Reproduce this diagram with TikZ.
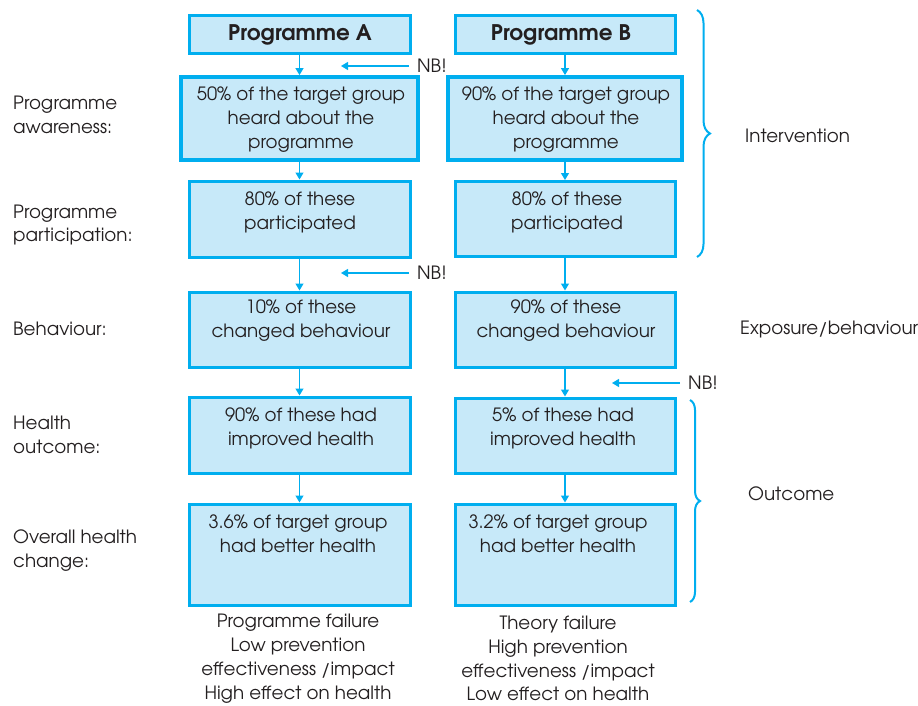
\documentclass[tikz,border=0pt]{standalone}
\usepackage{fontspec}
\setmainfont{TeX Gyre Adventor}
\usetikzlibrary{arrows.meta,decorations.pathreplacing}
\definecolor{cyanb}{HTML}{00AEEF}
\definecolor{fillb}{HTML}{C7E9F9}
\definecolor{txt}{HTML}{231F20}
\begin{document}
\begin{tikzpicture}[x=1pt,y=-1pt,
  box/.style={draw=cyanb, fill=fillb, line width=3pt, inner sep=0pt, rectangle},
  thickbox/.style={box, line width=3.8pt},
  lbl/.style={text=txt, font=\fontsize{18.3}{23.8}\selectfont, align=center, inner sep=0pt},
  llbl/.style={lbl, align=left, anchor=west},
  arr/.style={draw=cyanb, line width=1.3pt, -{Triangle[length=7pt,width=8pt]}},
  brc/.style={draw=cyanb, line width=2pt, decorate, decoration={brace, amplitude=#1}}
]
\useasboundingbox (0,0) rectangle (918,705);

% column A boxes
\node[box, minimum width=221pt, minimum height=38pt] (pa) at (299.5,34) {};
\node[thickbox, minimum width=237pt, minimum height=83pt] (aa) at (299.5,118.5) {};
\node[box, minimum width=221pt, minimum height=76pt] (ra) at (299.5,219) {};
\node[box, minimum width=221pt, minimum height=75pt] (ba) at (299.5,329.5) {};
\node[box, minimum width=221pt, minimum height=76pt] (ha) at (299.5,435) {};
\node[box, minimum width=221pt, minimum height=101pt] (oa) at (299.5,554.5) {};
% column B boxes
\node[box, minimum width=220pt, minimum height=38pt] (pb) at (565,34) {};
\node[thickbox, minimum width=234pt, minimum height=83pt] (ab) at (565,118.5) {};
\node[box, minimum width=220pt, minimum height=75pt] (rb) at (565,219) {};
\node[box, minimum width=220pt, minimum height=75pt] (bb) at (565,329.5) {};
\node[box, minimum width=220pt, minimum height=75pt] (hb) at (565,435.5) {};
\node[box, minimum width=220pt, minimum height=101pt] (ob) at (565,554.5) {};

% box texts
\node[lbl, font=\fontsize{21.5}{24}\selectfont\bfseries] (tpa) at (300,35) {Programme A};
\node[lbl, font=\fontsize{21.5}{24}\selectfont\bfseries] (tpb) at (561,35) {Programme B};
\node[lbl] (taa) at (301,119.5) {50\% of the target group\\heard about the\\programme};
\node[lbl] (tab) at (566,119.5) {90\% of the target group\\heard about the\\programme};
\node[lbl] (tra) at (300,212.5) {80\% of these\\participated};
\node[lbl] (trb) at (567,212.5) {80\% of these\\participated};
\node[lbl] (tba) at (301,320.5) {10\% of these\\changed behaviour};
\node[lbl] (tbb) at (566,320.5) {90\% of these\\changed behaviour};
\node[lbl] (tha) at (301,428) {90\% of these had\\improved health};
\node[lbl] (thb) at (563,428) {5\% of these had\\improved health};
\node[lbl] (toa) at (298,533.5) {3.6\% of target group\\had better health};
\node[lbl] (tob) at (558,533.5) {3.2\% of target group\\had better health};

% bottom texts
\node[lbl] (fa) at (298,658.5) {Programme failure\\Low prevention\\effectiveness /impact\\High effect on health};
\node[lbl] (fb) at (558,658.5) {Theory failure\\High prevention\\effectiveness /impact\\Low effect on health};

% left labels
\node[llbl] (l1) at (13,114.5) {Programme\\awareness:};
\node[llbl] (l2) at (13,225) {Programme\\participation:};
\node[llbl] (l3) at (13,328.5) {Behaviour:};
\node[llbl] (l4) at (13,434.5) {Health\\outcome:};
\node[llbl] (l5) at (13,550.5) {Overall health\\change:};

% right labels
\node[llbl] (r1) at (745,136) {Intervention};
\node[llbl] (r2) at (740,329) {Exposure/behaviour};
\node[llbl] (r3) at (748,494) {Outcome};

% vertical arrows
\draw[arr] (pa) -- (aa);
\draw[arr] (aa) -- (ra);
\draw[arr] (ra) -- (ba);
\draw[arr] (ba) -- (ha);
\draw[arr] (ha) -- (oa);
\draw[arr] (pb) -- (ab);
\draw[arr] (ab) -- (rb);
\draw[arr] (rb) -- (bb);
\draw[arr] (bb) -- (hb);
\draw[arr] (hb) -- (ob);

% NB arrows
\node[lbl, anchor=west, inner xsep=8pt] (nb1) at (409,66) {NB!};
\coordinate (n1) at (341,66);
\draw[arr] (nb1) -- (n1);
\node[lbl, anchor=west, inner xsep=8pt] (nb2) at (409,273) {NB!};
\coordinate (n2) at (341,273);
\draw[arr] (nb2) -- (n2);
\node[lbl, anchor=west, inner xsep=8pt] (nb3) at (680,383) {NB!};
\coordinate (n3) at (612,383);
\draw[arr] (nb3) -- (n3);

% braces
\coordinate (b1t) at (697,10);
\coordinate (b1b) at (697,257);
\draw[brc=13pt] (b1t) -- (b1b);
\coordinate (b2t) at (690,400);
\coordinate (b2b) at (690,602);
\draw[brc=10pt] (b2t) -- (b2b);
\end{tikzpicture}
\end{document}
